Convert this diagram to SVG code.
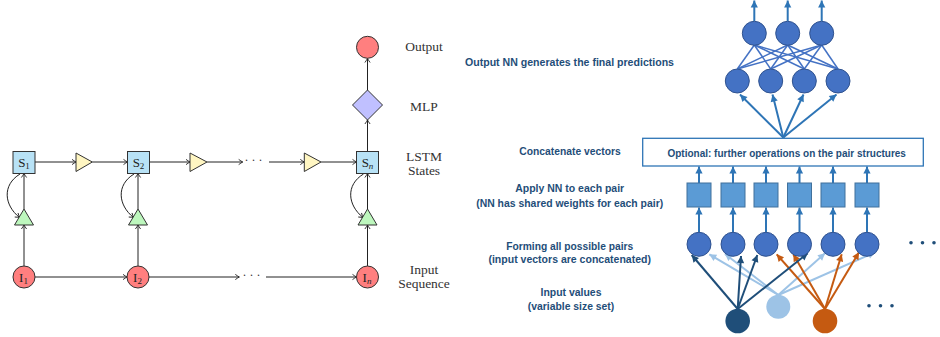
<svg xmlns="http://www.w3.org/2000/svg" width="940" height="337" viewBox="0 0 940 337">
<style>
.ln{fill:none;stroke:#222;stroke-width:1;marker-end:url(#ah)}
.sbox{fill:#B8E2F6;stroke:#333;stroke-width:1}
.ytri{fill:#FFF6C2;stroke:#333;stroke-width:1}
.gtri{fill:#BDF7BD;stroke:#333;stroke-width:1}
.red{fill:#FF7F7F;stroke:#333;stroke-width:1}
.dia{fill:#C0C0FF;stroke:#333;stroke-width:1}
.nl{font-family:"Liberation Serif","DejaVu Serif",serif;font-size:13px;fill:#222;text-anchor:middle}
.sub{font-size:9px}
.lab{font-family:"Liberation Serif","DejaVu Serif",serif;font-size:13.5px;fill:#333;text-anchor:middle}
.dots{font-family:"Liberation Serif","DejaVu Serif",serif;font-size:12px;fill:#333;text-anchor:middle}
.rt{font-family:"Liberation Sans",Arial,sans-serif;font-weight:bold;font-size:11px;fill:#1F4E79;text-anchor:middle}
.nn{fill:#4472C4;stroke:#2F528F;stroke-width:1}
.sq{fill:#5B9BD5;stroke:#41719C;stroke-width:1}
.ba{fill:none;stroke:#2E75B6;stroke-width:2;marker-end:url(#ab)}
.cn{fill:none;stroke:#4472C4;stroke-width:1.5}
.da{fill:none;stroke:#1F4E79;stroke-width:2;marker-end:url(#ad)}
.la{fill:none;stroke:#9DC3E6;stroke-width:2;marker-end:url(#al)}
.oa{fill:none;stroke:#C55A11;stroke-width:2;marker-end:url(#ao)}
</style>
<defs>
<marker id="ah" markerUnits="userSpaceOnUse" markerWidth="8" markerHeight="8" viewBox="-6 -4 8 8" refX="0" refY="0" orient="auto"><path d="M-4,-2.6 Q-1.5,-0.8 0,0 Q-1.5,0.8 -4,2.6" fill="none" stroke="#222" stroke-width="0.9"/></marker>
<marker id="ab" markerUnits="userSpaceOnUse" markerWidth="10" markerHeight="10" viewBox="-8 -5 10 10" refX="0" refY="0" orient="auto"><path d="M-7,-3.6 L0,0 L-7,3.6 z" fill="#2E75B6"/></marker>
<marker id="ad" markerUnits="userSpaceOnUse" markerWidth="10" markerHeight="10" viewBox="-8 -5 10 10" refX="0" refY="0" orient="auto"><path d="M-7,-3.6 L0,0 L-7,3.6 z" fill="#1F4E79"/></marker>
<marker id="al" markerUnits="userSpaceOnUse" markerWidth="10" markerHeight="10" viewBox="-8 -5 10 10" refX="0" refY="0" orient="auto"><path d="M-7,-3.6 L0,0 L-7,3.6 z" fill="#9DC3E6"/></marker>
<marker id="ao" markerUnits="userSpaceOnUse" markerWidth="10" markerHeight="10" viewBox="-8 -5 10 10" refX="0" refY="0" orient="auto"><path d="M-7,-3.6 L0,0 L-7,3.6 z" fill="#C55A11"/></marker>
</defs>
<rect width="940" height="337" fill="#fff"/>

<!-- LEFT: connectors -->
<g id="left-connectors">
<line class="ln" x1="35" y1="162" x2="76" y2="162"/>
<line class="ln" x1="92.3" y1="162" x2="127.5" y2="162"/>
<line class="ln" x1="149" y1="162" x2="190" y2="162"/>
<line class="ln" x1="207" y1="162" x2="242.7" y2="162"/>
<line class="ln" x1="269" y1="162" x2="304.3" y2="162"/>
<line class="ln" x1="321" y1="162" x2="356.5" y2="162"/>
<line class="ln" x1="35" y1="277" x2="127" y2="277"/>
<line class="ln" x1="149" y1="277" x2="239.3" y2="277"/>
<line class="ln" x1="266" y1="277" x2="356.5" y2="277"/>
<line class="ln" x1="24" y1="266" x2="24" y2="225"/>
<line class="ln" x1="24" y1="209" x2="24" y2="173.5"/>
<line class="ln" x1="138" y1="266" x2="138" y2="225"/>
<line class="ln" x1="138" y1="209" x2="138" y2="173.5"/>
<line class="ln" x1="367.5" y1="266" x2="367.5" y2="225"/>
<line class="ln" x1="367.5" y1="209" x2="367.5" y2="173.5"/>
<line class="ln" x1="367.5" y1="151.5" x2="367.5" y2="120"/>
<line class="ln" x1="367.5" y1="90" x2="367.5" y2="58.5"/>
<path class="ln" d="M20,174 C2,185 4,205 19.5,217.5"/>
<path class="ln" d="M134,174 C116,185 118,205 133.5,217.5"/>
<path class="ln" d="M363.5,174 C345.5,185 347.5,205 363,217.5"/>
<text class="dots" x="253.5" y="163.5">· · ·</text>
<text class="dots" x="251.5" y="278.5">· · ·</text>
</g>

<!-- LEFT: nodes -->
<g id="S1"><rect class="sbox" x="13" y="151.5" width="22" height="22"/><text class="nl" x="24" y="166.5">S<tspan class="sub" dy="2.5">1</tspan></text></g>
<g id="S2"><rect class="sbox" x="127.5" y="151.5" width="22" height="22"/><text class="nl" x="138.5" y="166.5">S<tspan class="sub" dy="2.5">2</tspan></text></g>
<g id="Sn"><rect class="sbox" x="356.5" y="151.5" width="22" height="22"/><text class="nl" x="367.5" y="166.5">S<tspan class="sub" dy="2.5" font-style="italic">n</tspan></text></g>
<g id="Y1"><polygon class="ytri" points="76,153 92.3,162 76,171.5"/></g>
<g id="Y2"><polygon class="ytri" points="190,153 207,162 190,171.5"/></g>
<g id="Y3"><polygon class="ytri" points="304.3,153 321,162 304.3,171.5"/></g>
<g id="G1"><polygon class="gtri" points="24,209 33.5,225 14.5,225"/></g>
<g id="G2"><polygon class="gtri" points="138,209 147.5,225 128.5,225"/></g>
<g id="Gn"><polygon class="gtri" points="367.5,209 377,225 358,225"/></g>
<g id="I1"><circle class="red" cx="24" cy="277" r="11"/><text class="nl" x="23.5" y="281.5">I<tspan class="sub" dy="2.5">1</tspan></text></g>
<g id="I2"><circle class="red" cx="138" cy="277" r="11"/><text class="nl" x="137.5" y="281.5">I<tspan class="sub" dy="2.5">2</tspan></text></g>
<g id="In"><circle class="red" cx="367.5" cy="277" r="11"/><text class="nl" x="367" y="281.5">I<tspan class="sub" dy="2.5" font-style="italic">n</tspan></text></g>
<g id="MLP"><polygon class="dia" points="367.5,90 382.5,105 367.5,120 352.5,105"/></g>
<g id="Out"><circle class="red" cx="367.5" cy="47.3" r="11"/></g>

<g id="left-labels">
<text class="lab" x="424" y="51">Output</text>
<text class="lab" x="424" y="110.5">MLP</text>
<text class="lab" x="424" y="160.5">LSTM</text>
<text class="lab" x="424" y="175">States</text>
<text class="lab" x="424" y="273.5">Input</text>
<text class="lab" x="424" y="288">Sequence</text>
</g>

<!-- RIGHT: text labels -->
<g id="right-labels">
<text class="rt" x="569.5" y="66.3" textLength="209" lengthAdjust="spacingAndGlyphs">Output NN generates the final predictions</text>
<text class="rt" x="570" y="155" textLength="101.5" lengthAdjust="spacingAndGlyphs">Concatenate vectors</text>
<text class="rt" x="569.7" y="192.3" textLength="109" lengthAdjust="spacingAndGlyphs">Apply NN to each pair</text>
<text class="rt" x="569.7" y="207" textLength="187" lengthAdjust="spacingAndGlyphs">(NN has shared weights for each pair)</text>
<text class="rt" x="569.7" y="249.7" textLength="127" lengthAdjust="spacingAndGlyphs">Forming all possible pairs</text>
<text class="rt" x="569.7" y="262.8" textLength="162.5" lengthAdjust="spacingAndGlyphs">(input vectors are concatenated)</text>
<text class="rt" x="571" y="296.3" textLength="61" lengthAdjust="spacingAndGlyphs">Input values</text>
<text class="rt" x="571" y="309.8" textLength="86.5" lengthAdjust="spacingAndGlyphs">(variable size set)</text>
</g>

<!-- RIGHT: connectors -->
<g id="right-connectors">
<line class="ba" x1="754.3" y1="21" x2="754.3" y2="0.5"/>
<line class="ba" x1="787.7" y1="21" x2="787.7" y2="0.5"/>
<line class="ba" x1="821.7" y1="21" x2="821.7" y2="0.5"/>
<g>
<line class="cn" x1="754.3" y1="45" x2="737.3" y2="69"/>
<line class="cn" x1="754.3" y1="45" x2="770.7" y2="69"/>
<line class="cn" x1="754.3" y1="45" x2="804.3" y2="69"/>
<line class="cn" x1="754.3" y1="45" x2="838" y2="69"/>
<line class="cn" x1="787.7" y1="45" x2="737.3" y2="69"/>
<line class="cn" x1="787.7" y1="45" x2="770.7" y2="69"/>
<line class="cn" x1="787.7" y1="45" x2="804.3" y2="69"/>
<line class="cn" x1="787.7" y1="45" x2="838" y2="69"/>
<line class="cn" x1="821.7" y1="45" x2="737.3" y2="69"/>
<line class="cn" x1="821.7" y1="45" x2="770.7" y2="69"/>
<line class="cn" x1="821.7" y1="45" x2="804.3" y2="69"/>
<line class="cn" x1="821.7" y1="45" x2="838" y2="69"/>
</g>
<line class="ba" x1="783.3" y1="137.5" x2="740" y2="94.5"/>
<line class="ba" x1="783.3" y1="137.5" x2="772.5" y2="94.5"/>
<line class="ba" x1="783.3" y1="137.5" x2="803.5" y2="94.5"/>
<line class="ba" x1="783.3" y1="137.5" x2="836.5" y2="94.5"/>
<line class="ba" x1="699" y1="183" x2="699" y2="166.5"/>
<line class="ba" x1="733" y1="183" x2="733" y2="166.5"/>
<line class="ba" x1="766" y1="183" x2="766" y2="166.5"/>
<line class="ba" x1="799.5" y1="183" x2="799.5" y2="166.5"/>
<line class="ba" x1="833" y1="183" x2="833" y2="166.5"/>
<line class="ba" x1="867" y1="183" x2="867" y2="166.5"/>
<line class="ba" x1="699" y1="232" x2="699" y2="207.5"/>
<line class="ba" x1="733" y1="232" x2="733" y2="207.5"/>
<line class="ba" x1="766" y1="232" x2="766" y2="207.5"/>
<line class="ba" x1="799.5" y1="232" x2="799.5" y2="207.5"/>
<line class="ba" x1="833" y1="232" x2="833" y2="207.5"/>
<line class="ba" x1="867" y1="232" x2="867" y2="207.5"/>
<line class="la" x1="778.3" y1="295" x2="709.3" y2="254.3"/>
<line class="la" x1="778.3" y1="295" x2="725" y2="254"/>
<line class="la" x1="778.3" y1="295" x2="825" y2="253.3"/>
<line class="la" x1="778.3" y1="295" x2="875" y2="252.3"/>
<line class="oa" x1="825" y1="309" x2="776.7" y2="254.3"/>
<line class="oa" x1="825" y1="309" x2="793.3" y2="254.3"/>
<line class="oa" x1="825" y1="309" x2="841.7" y2="254.3"/>
<line class="oa" x1="825" y1="309" x2="859" y2="252.3"/>
<line class="da" x1="737.7" y1="309" x2="691.7" y2="255"/>
<line class="da" x1="737.7" y1="309" x2="741" y2="256"/>
<line class="da" x1="737.7" y1="309" x2="757.3" y2="255"/>
<line class="da" x1="737.7" y1="309" x2="807.7" y2="253.3"/>
</g>

<!-- RIGHT: nodes -->
<g id="out1"><circle class="nn" cx="754.3" cy="33.3" r="12"/></g>
<g id="out2"><circle class="nn" cx="787.7" cy="33.3" r="12"/></g>
<g id="out3"><circle class="nn" cx="821.7" cy="33.3" r="12"/></g>
<g id="hid1"><circle class="nn" cx="737.3" cy="81" r="12"/></g>
<g id="hid2"><circle class="nn" cx="770.7" cy="81" r="12"/></g>
<g id="hid3"><circle class="nn" cx="804.3" cy="81" r="12"/></g>
<g id="hid4"><circle class="nn" cx="838" cy="81" r="12"/></g>
<g id="optbox"><rect x="642.7" y="138.3" width="280.6" height="27.7" fill="#fff" stroke="#2E75B6" stroke-width="1.3"/><text class="rt" x="786.7" y="157.3" textLength="238.5" lengthAdjust="spacingAndGlyphs">Optional: further operations on the pair structures</text></g>
<g id="sq1"><rect class="sq" x="687" y="183" width="24" height="24"/></g>
<g id="sq2"><rect class="sq" x="721" y="183" width="24" height="24"/></g>
<g id="sq3"><rect class="sq" x="754" y="183" width="24" height="24"/></g>
<g id="sq4"><rect class="sq" x="787.5" y="183" width="24" height="24"/></g>
<g id="sq5"><rect class="sq" x="821" y="183" width="24" height="24"/></g>
<g id="sq6"><rect class="sq" x="855" y="183" width="24" height="24"/></g>
<g id="pair1"><circle class="nn" cx="699" cy="244.3" r="12"/></g>
<g id="pair2"><circle class="nn" cx="733" cy="244.3" r="12"/></g>
<g id="pair3"><circle class="nn" cx="766" cy="244.3" r="12"/></g>
<g id="pair4"><circle class="nn" cx="799.5" cy="244.3" r="12"/></g>
<g id="pair5"><circle class="nn" cx="833" cy="244.3" r="12"/></g>
<g id="pair6"><circle class="nn" cx="867" cy="244.3" r="12"/></g>
<g id="in-dark"><circle cx="737.7" cy="321" r="12.3" fill="#1F4E79"/></g>
<g id="in-light"><circle cx="778.3" cy="306.7" r="12" fill="#9DC3E6"/></g>
<g id="in-orange"><circle cx="825" cy="321" r="12.3" fill="#C55A11"/></g>
<g id="ellipsis" fill="#1F4E79">
<circle cx="911" cy="242.7" r="1.8"/><circle cx="922.5" cy="242.7" r="1.8"/><circle cx="934" cy="242.7" r="1.8"/>
<circle cx="869" cy="305.7" r="1.8"/><circle cx="880.5" cy="305.7" r="1.8"/><circle cx="892" cy="305.7" r="1.8"/>
</g>
</svg>
